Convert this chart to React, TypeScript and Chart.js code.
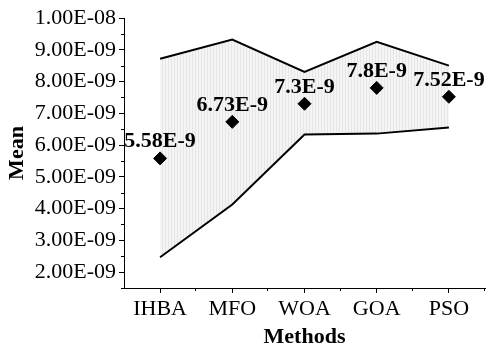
import React, { useEffect, useRef } from "react";
import { Chart, registerables } from "chart.js";

Chart.register(...registerables);

const methods = ["IHBA", "MFO", "WOA", "GOA", "PSO"];
const meanValues = [5.58e-9, 6.73e-9, 7.3e-9, 7.8e-9, 7.52e-9];
const meanLabels = ["5.58E-9", "6.73E-9", "7.3E-9", "7.8E-9", "7.52E-9"];
const upperValues = [8.72e-9, 9.32e-9, 8.3e-9, 9.25e-9, 8.5e-9];
const lowerValues = [2.47e-9, 4.13e-9, 6.33e-9, 6.36e-9, 6.55e-9];
const yTickValues = [2e-9, 3e-9, 4e-9, 5e-9, 6e-9, 7e-9, 8e-9, 9e-9, 1e-8];
const yMin = 1.5e-9;
const yMax = 1e-8;

const FONT = "'Liberation Serif', 'Times New Roman', serif";

function formatSci(v: number): string {
  const [mant, exp] = v.toExponential(2).split("e");
  const e = parseInt(exp, 10);
  const abs = Math.abs(e).toString().padStart(2, "0");
  return `${mant}E${e < 0 ? "-" : ""}${abs}`;
}

function makeHatch(): CanvasPattern | string {
  const c = document.createElement("canvas");
  c.width = 3;
  c.height = 1;
  const ctx = c.getContext("2d");
  if (!ctx) return "#eeeeee";
  ctx.fillStyle = "#f4f4f4";
  ctx.fillRect(0, 0, 3, 1);
  ctx.fillStyle = "#e6e6e6";
  ctx.fillRect(0, 0, 1, 1);
  return ctx.createPattern(c, "repeat") || "#eeeeee";
}

const minorTicks = {
  id: "minorTicks",
  afterDraw(chart: any) {
    const { ctx, chartArea, scales } = chart;
    const x = scales.x;
    const y = scales.y;
    ctx.save();
    ctx.strokeStyle = "#000";
    ctx.lineWidth = 1;
    ctx.beginPath();
    // minor ticks on the value axis, halfway between labelled ticks
    const yMinor = [yMin, ...yTickValues.slice(0, -1).map((v, i) => (v + yTickValues[i + 1]) / 2)];
    yMinor.forEach((v) => {
      const py = Math.round(y.getPixelForValue(v)) + 0.5;
      ctx.moveTo(chartArea.left - 3, py);
      ctx.lineTo(chartArea.left, py);
    });
    // minor ticks on the category axis, at category boundaries
    for (let i = 0; i < methods.length; i++) {
      const px =
        i < methods.length - 1
          ? (x.getPixelForValue(i) + x.getPixelForValue(i + 1)) / 2
          : chartArea.right;
      const rx = Math.round(px) - 0.5;
      ctx.moveTo(rx, chartArea.bottom);
      ctx.lineTo(rx, chartArea.bottom + 3);
    }
    ctx.stroke();
    ctx.restore();
  },
};

const valueLabels = {
  id: "valueLabels",
  afterDatasetsDraw(chart: any) {
    const { ctx } = chart;
    const meta = chart.getDatasetMeta(2);
    ctx.save();
    ctx.font = `bold 22px ${FONT}`;
    ctx.fillStyle = "#000";
    ctx.textAlign = "center";
    ctx.textBaseline = "alphabetic";
    meta.data.forEach((pt: any, i: number) => {
      ctx.fillText(meanLabels[i], pt.x, pt.y - 11);
    });
    ctx.restore();
  },
};

export default function App() {
  const ref = useRef<HTMLCanvasElement>(null);

  useEffect(() => {
    document.body.style.margin = "0";
    if (!ref.current) return;
    const hatch = makeHatch();
    const chart = new Chart(ref.current, {
      type: "line",
      data: {
        labels: methods,
        datasets: [
          {
            label: "Upper",
            data: upperValues,
            borderColor: "#000",
            borderWidth: 2,
            pointRadius: 0,
            backgroundColor: hatch as any,
            fill: "+1",
            tension: 0,
            order: 2,
          },
          {
            label: "Lower",
            data: lowerValues,
            borderColor: "#000",
            borderWidth: 2,
            pointRadius: 0,
            fill: false,
            tension: 0,
            order: 1,
          },
          {
            label: "Mean",
            data: meanValues,
            showLine: false,
            pointStyle: "rectRot",
            pointRadius: 6.5,
            pointBackgroundColor: "#000",
            pointBorderColor: "#000",
            pointBorderWidth: 1,
            fill: false,
            clip: false,
            order: 0,
          },
        ],
      },
      options: {
        responsive: false,
        animation: false,
        layout: { autoPadding: false, padding: { top: 18, right: 2, left: 0, bottom: 0 } },
        plugins: {
          legend: { display: false },
          tooltip: { enabled: false },
        },
        scales: {
          x: {
            type: "category",
            offset: true,
            grid: {
              display: true,
              drawOnChartArea: false,
              color: "#000",
              tickLength: 5,
              offset: false,
            },
            border: { display: true, color: "#000", width: 1 },
            ticks: {
              color: "#000",
              font: { family: FONT, size: 22 },
              padding: 3,
              maxRotation: 0,
              autoSkip: false,
            },
            title: {
              display: true,
              text: "Methods",
              color: "#000",
              font: { family: FONT, size: 22, weight: "bold" },
              padding: { top: 0, bottom: 1 },
            },
            afterFit(scale: any) {
              scale.height = 64;
              scale.paddingLeft = 0;
              scale.paddingRight = 0;
            },
          },
          y: {
            type: "linear",
            min: yMin,
            max: yMax,
            grid: {
              display: true,
              drawOnChartArea: false,
              color: "#000",
              tickLength: 5,
            },
            border: { display: true, color: "#000", width: 1 },
            ticks: {
              color: "#000",
              font: { family: FONT, size: 22 },
              padding: 3,
              callback: (v: any) => formatSci(Number(v)),
            },
            afterBuildTicks(scale: any) {
              scale.ticks = yTickValues.map((v) => ({ value: v }));
            },
            title: {
              display: true,
              text: "Mean",
              color: "#000",
              font: { family: FONT, size: 22, weight: "bold" },
              padding: { top: 4, bottom: 0 },
            },
            afterFit(scale: any) {
              scale.width = 124;
              scale.paddingTop = 0;
              scale.paddingBottom = 0;
            },
          },
        },
      },
      plugins: [minorTicks, valueLabels],
    });
    return () => chart.destroy();
  }, []);

  return (
    <div style={{ position: "absolute", left: 0, top: 0, width: 487, height: 352, overflow: "hidden", background: "#fff" }}>
      <canvas ref={ref} width={487} height={352} style={{ display: "block" }} />
    </div>
  );
}
